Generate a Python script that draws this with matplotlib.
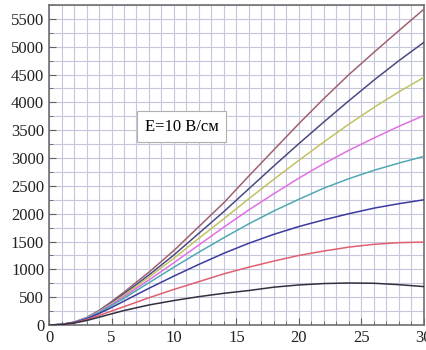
import matplotlib
matplotlib.use('Agg')
import matplotlib.pyplot as plt
from matplotlib.ticker import MultipleLocator

# x positions where the curves were read
x = [0, 1, 2, 3, 4, 5, 6, 8, 10, 12, 14, 16, 18, 20, 22, 24, 26, 28, 30]

# curves from top to bottom
y_brown = [0, 10, 50, 130, 260, 420, 590, 950, 1340, 1770, 2200, 2680, 3150, 3620, 4070, 4500, 4900, 5290, 5675]
y_slate = [0, 10, 50, 130, 255, 400, 560, 900, 1260, 1650, 2040, 2450, 2860, 3260, 3650, 4030, 4400, 4750, 5080]
y_olive = [0, 10, 50, 125, 245, 385, 535, 860, 1200, 1560, 1910, 2270, 2620, 2960, 3290, 3610, 3910, 4190, 4450]
y_magenta = [0, 10, 50, 125, 235, 370, 510, 810, 1120, 1440, 1760, 2070, 2360, 2640, 2900, 3140, 3360, 3570, 3765]
y_teal = [0, 10, 48, 120, 225, 350, 480, 760, 1040, 1310, 1570, 1820, 2050, 2260, 2460, 2630, 2780, 2910, 3030]
y_blue = [0, 10, 45, 110, 205, 315, 430, 660, 880, 1090, 1290, 1470, 1630, 1770, 1890, 2000, 2100, 2180, 2250]
y_red = [0, 8, 40, 95, 170, 250, 330, 490, 640, 780, 920, 1040, 1150, 1250, 1330, 1400, 1450, 1480, 1490]
y_black = [0, 8, 35, 80, 140, 200, 260, 360, 440, 510, 570, 620, 680, 720, 745, 755, 750, 725, 690]

curves = [y_brown, y_slate, y_olive, y_magenta, y_teal, y_blue, y_red, y_black]
colors = ['#a06070', '#4a4a82', '#c2c262', '#e070e0', '#50a8b4', '#3a3aa0', '#e06070', '#303040']

plt.rcParams['font.family'] = ['Liberation Serif', 'DejaVu Serif']

fig = plt.figure(figsize=(4.27, 3.5), dpi=100)
ax = fig.add_axes([0.1148, 0.0714, 0.878, 0.9143])

for yy, c in zip(curves, colors):
    ax.plot(x, yy, color=c, lw=1.1, zorder=3)

ax.set_xlim(0, 30)
ax.set_ylim(0, 5750)
ax.xaxis.set_major_locator(MultipleLocator(5))
ax.xaxis.set_minor_locator(MultipleLocator(1))
ax.yaxis.set_major_locator(MultipleLocator(500))
ax.yaxis.set_minor_locator(MultipleLocator(250))
ax.grid(which='both', color='#c6c6dc', lw=0.8, zorder=0)
ax.set_axisbelow(True)
ax.tick_params(which='both', direction='in', colors='#606060', labelcolor='#222222', labelsize=12)
ax.tick_params(which='major', length=5)
ax.tick_params(which='minor', length=3)
for s in ax.spines.values():
    s.set_color('#707070')
    s.set_linewidth(1.2)

ax.text(10.6, 3560, 'E=10 В/см', ha='center', va='center', fontsize=12, zorder=4,
        bbox=dict(boxstyle='square,pad=0.45', fc='white', ec='#b0b0b0', lw=0.8))

fig.savefig('out.png', dpi=100)
